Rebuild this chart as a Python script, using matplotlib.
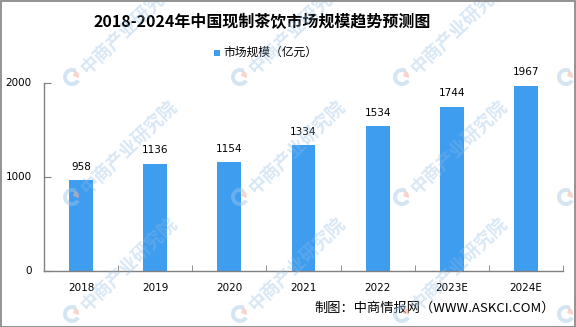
import matplotlib
matplotlib.use("Agg")
import matplotlib.pyplot as plt
from matplotlib.patches import Rectangle, Wedge

plt.rcParams['font.family'] = ['Noto Sans CJK SC', 'DejaVu Sans']

years = ['2018', '2019', '2020', '2021', '2022', '2023E', '2024E']
market_size = [958, 1136, 1154, 1334, 1534, 1744, 1967]
y_ticks = [0, 1000, 2000]

title = '2018-2024年中国现制茶饮市场规模趋势预测图'
legend_label = '市场规模（亿元）'
source = '制图：中商情报网（WWW.ASKCI.COM）'
watermark = '中商产业研究院'

W, H = 576, 327
fig = plt.figure(figsize=(W / 100, H / 100), dpi=100)
fig.patch.set_facecolor('white')

ax = fig.add_axes([44 / W, 1 - 270.5 / H, (563 - 44) / W, (270.5 - 82.5) / H])
bar_color = '#3F9DF0'
axis_color = '#808080'

x = list(range(len(years)))
ax.bar(x, market_size, width=0.32, color=bar_color, zorder=2)
for xi, v in zip(x, market_size):
    ax.annotate(str(v), (xi, v), xytext=(0, 6), textcoords='offset points',
                ha='center', va='bottom', fontsize=7.5, family='DejaVu Sans',
                color='black', annotation_clip=False)

ax.set_xlim(-0.5, len(years) - 0.5)
ax.set_ylim(0, 2000)
ax.set_yticks(y_ticks)
ax.set_yticklabels([str(t) for t in y_ticks], fontsize=7.5, family='DejaVu Sans')
ax.set_xticks(x)
ax.set_xticklabels(years, fontsize=7.5, family='DejaVu Sans')
ax.set_xticks([i - 0.5 for i in range(len(years) + 1)], minor=True)
ax.tick_params(axis='x', which='major', length=0, pad=9)
ax.tick_params(axis='x', which='minor', direction='in', length=4, color=axis_color)
ax.tick_params(axis='y', direction='in', length=5, color=axis_color, pad=9)
for s in ('top', 'right'):
    ax.spines[s].set_visible(False)
for s in ('left', 'bottom'):
    ax.spines[s].set_color(axis_color)
    ax.spines[s].set_linewidth(1.0)

# title, legend and source line
fig.text(262 / W, 1 - 22 / H, title, ha='center', va='center', fontsize=11.5,
         fontweight='bold', color='black')
fig.patches.append(Rectangle((213.5 / W, 1 - 55.5 / H), 6 / W, 6 / H,
                             transform=fig.transFigure, facecolor=bar_color,
                             edgecolor='none'))
fig.text(223 / W, 1 - 52.5 / H, legend_label, ha='left', va='center',
         fontsize=8.5, color='black')
fig.text(555 / W, 1 - 308 / H, source, ha='right', va='center',
         fontsize=9.5, color='black')

# faint company watermark repeated across the canvas
wm_x = [72, 240, 402, 566]
wm_y = [77, 197, 314]
for gx in wm_x:
    for gy in wm_y:
        fig.patches.append(Wedge((gx, H - gy), 9, 60, 330, width=4,
                                 transform=None, facecolor='#9fc6e6',
                                 edgecolor='none', alpha=0.45, zorder=5))
        fig.patches.append(Wedge((gx + 1, H - gy + 1), 6, -20, 70,
                                 transform=None, facecolor='#f2b3a3',
                                 edgecolor='none', alpha=0.55, zorder=5))
        fig.text((gx + 12) / W, 1 - (gy - 6) / H, watermark, rotation=44,
                 rotation_mode='anchor', ha='left', va='center', fontsize=13,
                 fontweight='bold', color='#8dbbe2', alpha=0.35, zorder=5,
                 clip_on=True)

# outer frame
fig.patches.append(Rectangle((0.5 / W, 0.5 / H), (W - 1.5) / W, (H - 1.5) / H,
                             transform=fig.transFigure, fill=False,
                             edgecolor=axis_color, linewidth=1.2, zorder=6))

fig.savefig('out.png', dpi=100)
